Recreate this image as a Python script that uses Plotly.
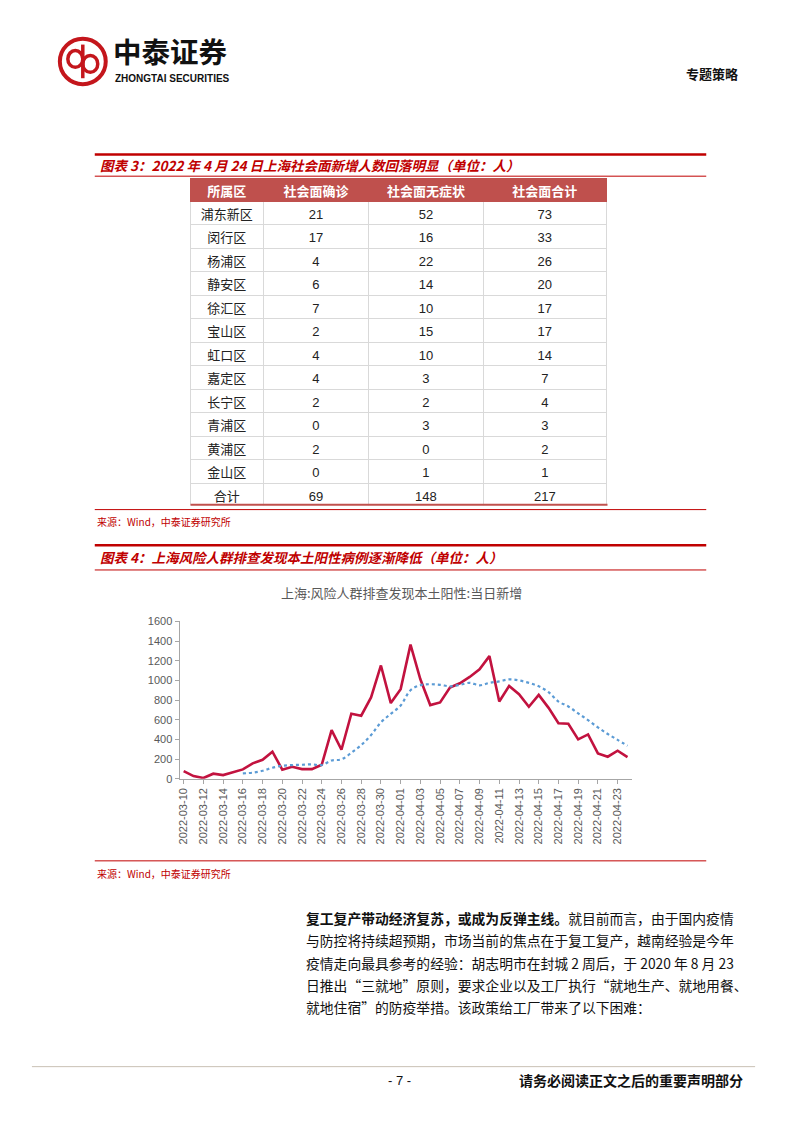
import plotly.graph_objects as go

W, H = 802, 1133

# ---------------- data ----------------
districts = ['浦东新区', '闵行区', '杨浦区', '静安区', '徐汇区', '宝山区', '虹口区',
             '嘉定区', '长宁区', '青浦区', '黄浦区', '金山区', '合计']
confirmed = [21, 17, 4, 6, 7, 2, 4, 4, 2, 0, 2, 0, 69]
asymptomatic = [52, 16, 22, 14, 10, 15, 10, 3, 2, 3, 0, 1, 148]
total = [73, 33, 26, 20, 17, 17, 14, 7, 4, 3, 2, 1, 217]
table_header = ['所属区', '社会面确诊', '社会面无症状', '社会面合计']

dates = ['2022-03-10', '2022-03-11', '2022-03-12', '2022-03-13', '2022-03-14', '2022-03-15',
         '2022-03-16', '2022-03-17', '2022-03-18', '2022-03-19', '2022-03-20', '2022-03-21',
         '2022-03-22', '2022-03-23', '2022-03-24', '2022-03-25', '2022-03-26', '2022-03-27',
         '2022-03-28', '2022-03-29', '2022-03-30', '2022-03-31', '2022-04-01', '2022-04-02',
         '2022-04-03', '2022-04-04', '2022-04-05', '2022-04-06', '2022-04-07', '2022-04-08',
         '2022-04-09', '2022-04-10', '2022-04-11', '2022-04-12', '2022-04-13', '2022-04-14',
         '2022-04-15', '2022-04-16', '2022-04-17', '2022-04-18', '2022-04-19', '2022-04-20',
         '2022-04-21', '2022-04-22', '2022-04-23', '2022-04-24']
daily_new = [78, 27, 7, 51, 37, 68, 95, 156, 193, 275, 92, 122, 98, 98, 142, 495, 295, 661,
             641, 827, 1152, 769, 911, 1364, 1011, 749, 776, 927, 971, 1035, 1112, 1247, 786,
             944, 860, 732, 853, 721, 564, 559, 400, 451, 258, 224, 285, 220]
moving_avg = [None, None, None, None, None, None, 54, 62, 81, 112, 132, 139, 142, 146, 139,
              186, 197, 264, 342, 444, 573, 660, 745, 900, 951, 961, 955, 940, 955, 975, 950,
              975, 990, 1010, 1000, 975, 940, 880, 785, 735, 665, 595, 522, 455, 395, 335]
y_ticks = [0, 200, 400, 600, 800, 1000, 1200, 1400, 1600]

RED = '#c00000'
LINE_RED = '#c2123f'
CJK = 'Noto Sans CJK SC'


def px(x):
    return x / W


def py(y):
    return 1 - y / H


fig = go.Figure()

# ---------------- table ----------------
fig.add_trace(go.Table(
    domain=dict(x=[px(189), px(607)], y=[py(505), py(174)]),
    columnwidth=[73, 106, 115, 124],
    header=dict(values=table_header, fill_color='#bf504d', line_color='#bf504d',
                font=dict(color='white', size=13, family=CJK, weight='bold'),
                height=23, align='center'),
    cells=dict(values=[districts, confirmed, asymptomatic, total],
               fill_color='white', line=dict(color='#d9d9d9', width=1),
               font=dict(color='#222222', size=13, family='Liberation Sans, ' + CJK),
               height=23.5, align='center'),
))

# ---------------- line chart ----------------
fig.add_trace(go.Scatter(x=dates, y=daily_new, mode='lines',
                         line=dict(color=LINE_RED, width=2.6), showlegend=False,
                         hoverinfo='x+y'))
fig.add_trace(go.Scatter(x=dates, y=moving_avg, mode='lines',
                         line=dict(color='#5b9bd5', width=2.2, dash='dot', shape='spline'),
                         showlegend=False, connectgaps=False))

axis_col = '#a6a6a6'
fig.update_layout(
    width=W, height=H, margin=dict(l=0, r=0, t=0, b=0),
    paper_bgcolor='white', plot_bgcolor='white',
    xaxis=dict(domain=[px(178), px(632)], type='date',
               range=['2022-03-09 14:00', '2022-04-24 12:00'],
               tick0='2022-03-10', dtick=2 * 86400000, tickformat='%Y-%m-%d',
               tickangle=-90, showline=True, linecolor=axis_col, linewidth=1,
               ticks='outside', ticklen=4, tickcolor=axis_col,
               tickfont=dict(size=11, color='#595959', family='Liberation Sans'),
               showgrid=False, zeroline=False),
    yaxis=dict(domain=[py(781), py(622)], range=[0, 1600], tickvals=y_ticks,
               showline=True, linecolor=axis_col, linewidth=1,
               ticks='outside', ticklen=4, tickcolor=axis_col,
               tickfont=dict(size=11, color='#595959', family='Liberation Sans'),
               showgrid=False, zeroline=False),
    font=dict(family='Liberation Sans, ' + CJK),
)

shapes = []


def hline(x0, x1, y, color, width):
    shapes.append(dict(type='line', xref='paper', yref='paper', x0=px(x0), x1=px(x1),
                       y0=py(y), y1=py(y), line=dict(color=color, width=width)))


# figure 3 frame
hline(93, 706, 150, RED, 2.5)
hline(93, 706, 172, RED, 1)
hline(189, 607, 504, '#c0504d', 2)
hline(93, 706, 509, RED, 1)
# figure 4 frame
hline(93, 706, 545, RED, 2.5)
hline(93, 706, 570, RED, 1)
hline(93, 706, 864, RED, 1)
# footer
hline(30, 755, 1072, '#c9c0b4', 1)

# logo
shapes.append(dict(type='circle', xref='paper', yref='paper',
                   x0=px(58), x1=px(104), y0=py(79), y1=py(33),
                   line=dict(color='#c4161c', width=4)))
shapes.append(dict(type='circle', xref='paper', yref='paper',
                   x0=px(66), x1=px(81), y0=py(62), y1=py(45),
                   line=dict(color='#c4161c', width=3.5)))
shapes.append(dict(type='circle', xref='paper', yref='paper',
                   x0=px(81), x1=px(96), y0=py(67), y1=py(50),
                   line=dict(color='#c4161c', width=3.5)))
shapes.append(dict(type='line', xref='paper', yref='paper',
                   x0=px(81), x1=px(81), y0=py(39), y1=py(73),
                   line=dict(color='#c4161c', width=3.5)))
fig.update_layout(shapes=shapes)

ann = []


def text(x, y, s, size, color='#000000', anchor='left', family=CJK, **kw):
    ann.append(dict(x=px(x), y=py(y), xref='paper', yref='paper', text=s, showarrow=False,
                    xanchor=anchor, yanchor='middle',
                    font=dict(size=size, color=color, family=family, **kw)))


text(109, 45, '<b>中泰证券</b>', 28.5, '#111111')
text(111, 73, '<b>ZHONGTAI SECURITIES</b>', 10, '#111111', family='Liberation Sans Narrow, Liberation Sans')
text(740, 68, '<b>专题策略</b>', 13, '#111111', anchor='right')

text(96, 161, '<b><i>图表 3：2022 年 4 月 24 日上海社会面新增人数回落明显（单位：人）</i></b>', 13.5, RED)
text(93, 521, '来源：Wind，中泰证券研究所', 10, RED)
text(96, 557, '<b><i>图表 4：上海风险人群排查发现本土阳性病例逐渐降低（单位：人）</i></b>', 13.5, RED)
text(400, 593, '上海:风险人群排查发现本土阳性:当日新增', 13, '#595959', anchor='center')
text(93, 877, '来源：Wind，中泰证券研究所', 10, RED)

para = [
    '<b>复工复产带动经济复苏，或成为反弹主线。</b>就目前而言，由于国内疫情',
    '与防控将持续超预期，市场当前的焦点在于复工复产，越南经验是今年',
    '疫情走向最具参考的经验：胡志明市在封城 2 周后，于 2020 年 8 月 23',
    '日推出“三就地”原则，要求企业以及工厂执行“就地生产、就地用餐、',
    '就地住宿”的防疫举措。该政策给工厂带来了以下困难：',
]
for i, line in enumerate(para):
    text(303, 922 + i * 22.5, line, 13.8, '#111111')

text(398, 1086, '- 7 -', 13, '#111111', anchor='center', family='Liberation Sans')
text(745, 1086, '<b>请务必阅读正文之后的重要声明部分</b>', 14, '#111111', anchor='right')

fig.update_layout(annotations=ann)

fig.write_html('out.html')
